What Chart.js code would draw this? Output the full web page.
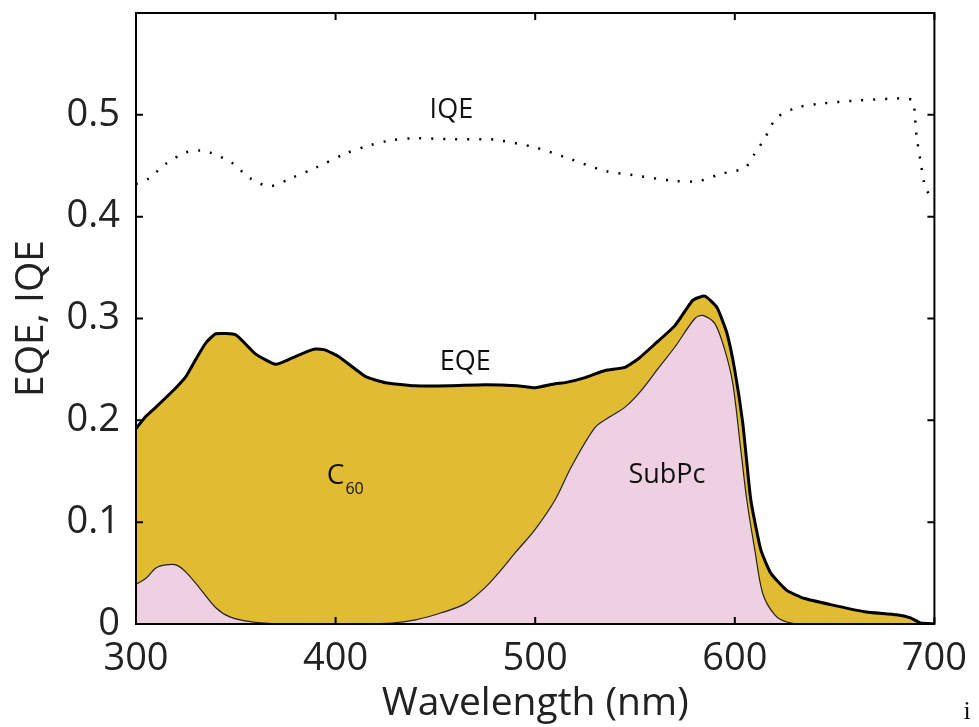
<!DOCTYPE html>
<html lang="en">
<head>
  <meta charset="UTF-8">
  <title>EQE / IQE</title>
  <script src="https://cdn.jsdelivr.net/npm/chart.js@4.4.1/dist/chart.umd.min.js"></script>
  <style>
    html, body { margin: 0; padding: 0; background: #fff; }
    #wrap { width: 979px; height: 727px; }
  </style>
</head>
<body>
  <div id="wrap"><canvas id="eqeChart" width="979" height="727"></canvas></div>
  <script>
    // Wavelength (nm) / value pairs
    const eqeX = [300, 305, 310, 318, 325, 330, 335, 340, 350, 360, 370, 378, 385, 390, 395, 402, 415, 425, 440, 457, 475, 491, 500, 510, 515, 525, 535, 545, 552, 560, 570, 579, 585, 591, 596, 600, 604, 608, 613, 618, 626, 635, 648, 665, 681, 688, 693, 700];
    const eqeY = [0.192, 0.204, 0.213, 0.228, 0.243, 0.26, 0.276, 0.285, 0.284, 0.265, 0.255, 0.261, 0.267, 0.270, 0.269, 0.262, 0.243, 0.237, 0.234, 0.234, 0.235, 0.234, 0.232, 0.236, 0.237, 0.242, 0.249, 0.252, 0.261, 0.275, 0.293, 0.318, 0.322, 0.311, 0.286, 0.249, 0.197, 0.122, 0.073, 0.050, 0.033, 0.025, 0.019, 0.012, 0.009, 0.006, 0.001, 0];

    const subpcX = [300, 305, 310, 315, 320, 325, 332, 340, 347, 358, 372, 400, 428, 440, 453, 465, 475, 482, 490, 500, 510, 518, 530, 537, 545, 553, 562, 570, 580, 584, 590, 595, 599, 603, 606, 610, 614, 620, 626, 635, 700];
    const subpcY = [0.039, 0.045, 0.055, 0.058, 0.058, 0.051, 0.035, 0.016, 0.007, 0.002, 0, 0, 0.001, 0.004, 0.011, 0.020, 0.036, 0.051, 0.070, 0.093, 0.122, 0.154, 0.193, 0.203, 0.213, 0.229, 0.252, 0.272, 0.300, 0.303, 0.295, 0.269, 0.236, 0.171, 0.122, 0.073, 0.030, 0.009, 0.002, 0, 0];

    const iqeX = [300, 306, 315, 325, 332, 337, 348, 357, 367, 378, 390, 405, 417, 428, 440, 458, 477, 482, 500, 517, 535, 552, 570, 582, 593, 605, 610, 615, 621, 631, 643, 661, 680, 686, 689, 690, 691, 693, 695, 697, 700];
    const iqeY = [0.432, 0.437, 0.452, 0.463, 0.465, 0.463, 0.453, 0.438, 0.430, 0.438, 0.448, 0.462, 0.470, 0.475, 0.477, 0.476, 0.476, 0.475, 0.468, 0.457, 0.445, 0.440, 0.435, 0.435, 0.442, 0.448, 0.462, 0.477, 0.497, 0.507, 0.511, 0.514, 0.516, 0.516, 0.514, 0.505, 0.480, 0.455, 0.432, 0.423, 0.415];

    const xTicks = [300, 400, 500, 600, 700];
    const yTicks = [0, 0.1, 0.2, 0.3, 0.4, 0.5];

    // text labels placed in data coordinates
    const notes = [
      { text: 'IQE', x: 458, y: 0.504 },
      { text: 'EQE', x: 465, y: 0.257 },
      { text: 'SubPc', x: 566, y: 0.146 }
    ];

    const toPts = (xs, ys) => xs.map((x, i) => ({ x: x, y: ys[i] }));

    const gold = 'rgb(225, 188, 50)';
    const pink = 'rgb(239, 208, 227)';
    const font = "'Open Sans', 'DejaVu Sans', sans-serif";

    // box + inward ticks + in-plot labels
    const framePlugin = {
      id: 'frame',
      afterDatasetsDraw(chart) {
        const { ctx, chartArea: a, scales } = chart;
        ctx.save();
        ctx.strokeStyle = '#000';
        ctx.lineWidth = 2;
        ctx.strokeRect(a.left, a.top, a.right - a.left, a.bottom - a.top);
        const len = 7;
        ctx.beginPath();
        xTicks.forEach(v => {
          const px = scales.x.getPixelForValue(v);
          ctx.moveTo(px, a.bottom); ctx.lineTo(px, a.bottom - len);
          ctx.moveTo(px, a.top); ctx.lineTo(px, a.top + len);
        });
        yTicks.forEach(v => {
          const py = scales.y.getPixelForValue(v);
          ctx.moveTo(a.left, py); ctx.lineTo(a.left + len, py);
          ctx.moveTo(a.right, py); ctx.lineTo(a.right - len, py);
        });
        ctx.stroke();

        ctx.fillStyle = '#111';
        ctx.textAlign = 'center';
        ctx.textBaseline = 'middle';
        ctx.font = '27px ' + font;
        notes.forEach(n => {
          ctx.fillText(n.text, scales.x.getPixelForValue(n.x), scales.y.getPixelForValue(n.y));
        });
        // C with subscript 60
        const cx = scales.x.getPixelForValue(400);
        const cy = scales.y.getPixelForValue(0.145);
        ctx.font = '28px ' + font;
        ctx.fillText('C', cx, cy);
        ctx.font = '16px ' + font;
        ctx.fillText('60', cx + 19, cy + 13);

        ctx.font = '26px "Liberation Serif", serif';
        ctx.fillText('i', 967, 712);
        ctx.restore();
      }
    };

    new Chart(document.getElementById('eqeChart').getContext('2d'), {
      type: 'line',
      data: {
        datasets: [
          {
            label: 'SubPc',
            data: toPts(subpcX, subpcY),
            borderColor: '#222',
            borderWidth: 1.2,
            backgroundColor: pink,
            fill: 'origin',
            pointRadius: 0,
            tension: 0.3
          },
          {
            label: 'EQE',
            data: toPts(eqeX, eqeY),
            borderColor: '#000',
            borderWidth: 3,
            backgroundColor: gold,
            fill: 'origin',
            pointRadius: 0,
            tension: 0.15
          },
          {
            label: 'IQE',
            data: toPts(iqeX, iqeY),
            borderColor: '#000',
            borderWidth: 2.5,
            borderDash: [2, 10],
            fill: false,
            pointRadius: 0,
            tension: 0.3
          }
        ]
      },
      options: {
        responsive: false,
        animation: false,
        layout: { padding: { top: 13, right: 42, left: 0, bottom: 0 } },
        plugins: {
          legend: { display: false },
          tooltip: { enabled: false }
        },
        scales: {
          x: {
            type: 'linear',
            min: 300,
            max: 700,
            afterFit: s => { s.height = 103; },
            afterBuildTicks: s => { s.ticks = xTicks.map(v => ({ value: v })); },
            grid: { display: false, drawTicks: false },
            border: { display: false },
            ticks: { color: '#222', font: { family: font, size: 38 }, padding: 12, maxRotation: 0 },
            title: { display: true, text: 'Wavelength (nm)', color: '#222', font: { family: font, size: 39 }, padding: { top: 0, bottom: 0 } }
          },
          y: {
            min: 0,
            max: 0.6,
            afterFit: s => { s.width = 136; s.paddingTop = 0; s.paddingBottom = 0; },
            afterBuildTicks: s => { s.ticks = yTicks.map(v => ({ value: v })); },
            grid: { display: false, drawTicks: false },
            border: { display: false },
            ticks: { color: '#222', font: { family: font, size: 38 }, padding: 16 },
            title: { display: true, text: 'EQE, IQE', color: '#222', font: { family: font, size: 39 }, padding: { top: 8, bottom: 0 } }
          }
        }
      },
      plugins: [framePlugin]
    });
  </script>
</body>
</html>
